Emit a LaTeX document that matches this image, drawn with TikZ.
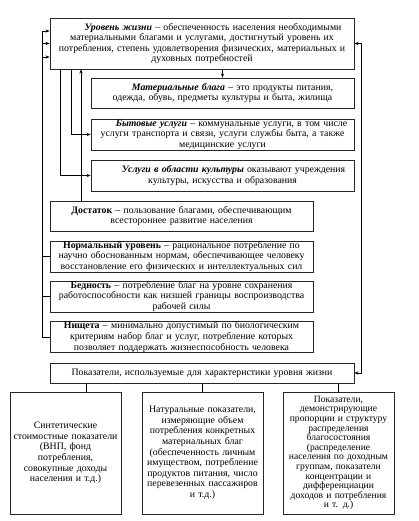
\documentclass[tikz,border=0pt]{standalone}
\usepackage{fontspec}
\setmainfont{Liberation Serif}
\usetikzlibrary{arrows.meta,calc}
\begin{document}
\begin{tikzpicture}[x=1pt,y=-1pt,
  box/.style={draw=black!85, line width=0.9pt, inner xsep=0pt, inner ysep=0pt, align=center, font={\fontsize{9.8}{10.6}\selectfont}},
  arr/.style={-{Stealth[length=4pt,width=3.2pt]}, line width=0.7pt},
  both/.style={{Stealth[length=4pt,width=3.2pt]}-{Stealth[length=4pt,width=3.2pt]}, line width=0.7pt},
  ln/.style={line width=0.7pt}]
\useasboundingbox (0,0) rectangle (419,521);
\node[box, text width=304pt, minimum height=51pt] (top) at (202,43.5)
 {\hspace*{22pt}\textbf{\textit{Уровень жизни}} – обеспеченность населения необходимыми\\
  материальными благами и услугами, достигнутый уровень их\\
  потребления, степень удовлетворения физических, материальных и\\
  духовных потребностей};
\node[box, text width=263pt, minimum height=30pt] (mat) at (222.5,93)
 {\hspace*{20pt}\textbf{\textit{Материальные блага}} – это продукты питания,\\
  одежда, обувь, предметы культуры и быта, жилища};
\node[box, text width=263pt, minimum height=31pt] (byt) at (222.5,134.5)
 {\hspace*{18pt}\textbf{\textit{Бытовые услуги}} – коммунальные услуги, в том числе\\
  услуги транспорта и связи, услуги службы быта, а также\\
  медицинские услуги};
\node[box, text width=263pt, minimum height=31pt] (kult) at (222.5,175.5)
 {\hspace*{22pt}\textbf{\textit{Услуги в области культуры}} оказывают учреждения\\
  культуры, искусства и образования};
\node[box, text width=263pt, minimum height=30pt] (dost) at (181.5,216)
 {\textbf{Достаток} – пользование благами, обеспечивающим\\
  всестороннее развитие населения};
\node[box, text width=263pt, minimum height=31pt] (norm) at (181.5,256.5)
 {\textbf{Нормальный уровень} – рациональное потребление по\\
  научно обоснованным нормам, обеспечивающее человеку\\
  восстановление его физических и интеллектуальных сил};
\node[box, text width=263pt, minimum height=31pt] (bed) at (181.5,296.5)
 {\textbf{Бедность} – потребление благ на уровне сохранения\\
  работоспособности как низшей границы воспроизводства\\
  рабочей силы};
\node[box, text width=263pt, minimum height=30pt] (nisch) at (181.5,337)
 {\textbf{Нищета} – минимально допустимый по биологическим\\
  критериям набор благ и услуг, потребление которых\\
  позволяет поддержать жизнеспособность человека};
\node[box, text width=304pt, minimum height=20pt] (pok) at (202,373)
 {Показатели, используемые для характеристики уровня жизни};
\node[box, text width=111pt, minimum height=122pt] (b1) at (65.5,453)
 {Синтетические\\ стоимостные показатели\\ (ВНП, фонд\\ потребления,\\ совокупные доходы\\ населения и т.д.)};
\node[box, text width=121pt, minimum height=122pt] (b2) at (202.5,453)
 {Натуральные показатели,\\ измеряющие объем\\ потребления конкретных\\ материальных благ\\ (обеспеченность личным\\ имуществом, потребление\\ продуктов питания, число\\ перевезенных пассажиров\\ и т.д.)};
\node[box, text width=111pt, minimum height=122pt, font={\fontsize{9.6}{9.6}\selectfont}] (b3) at (338.5,453)
 {Показатели,\\ демонстрирующие\\ пропорции и структуру\\ распределения\\ благосостояния\\ (распределение\\ населения по доходным\\ группам, показатели\\ концентрации и\\ дифференциации\\ доходов и потребления\\ и т. д.)};
\coordinate (x42) at (42,0);
\coordinate (x60) at (60,0);
\coordinate (x71) at (71,0);
\coordinate (x81) at (81,0);
\coordinate (x86) at (86,0);
\coordinate (x361) at (361,0);
\draw[arr] (top.south -| mat.north) -- (mat.north);
\draw[arr] (top.south -| x71) |- (byt.west);
\draw[arr] (top.south -| x60) |- (kult.west);
\draw[arr] (dost.north -| x81) -- (top.south -| x81);
\draw[arr] (norm.west) -- (norm.west -| x42) |- ($(top.west)+(0,13.5)$);
\draw[arr] (bed.west) -- (bed.west -| x42) |- (top.west);
\draw[arr] (nisch.west) -- (nisch.west -| x42) |- ($(top.west)+(0,-12.5)$);
\draw[both] (top.east) -- (top.east -| x361) |- (pok.east);
\draw[ln] (pok.south -| x86) -- (b1.north -| x86);
\draw[ln] (pok.south -| b2.north) -- (b2.north);
\draw[ln] (pok.south -| b3.north) -- (b3.north);
\end{tikzpicture}
\end{document}
